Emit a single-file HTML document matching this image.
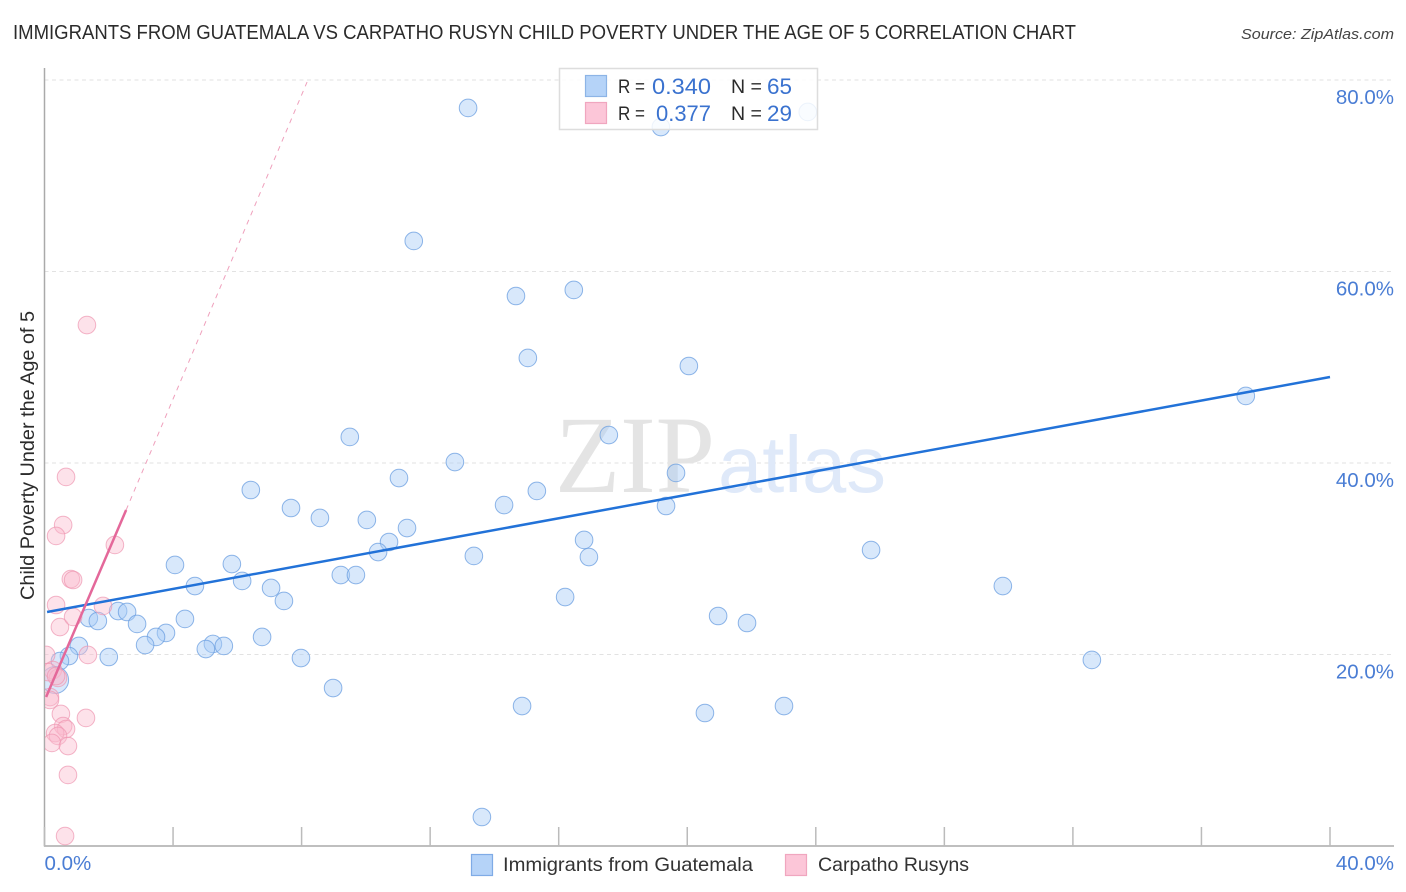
<!DOCTYPE html>
<html lang="en">
<head>
<meta charset="utf-8">
<title>Immigrants from Guatemala vs Carpatho Rusyn Child Poverty Under the Age of 5</title>
<style>
html,body{margin:0;padding:0;background:#fff;}
svg{display:block;font-family:"Liberation Sans",sans-serif;}
</style>
</head>
<body>
<svg id="chart" xmlns="http://www.w3.org/2000/svg" width="1406" height="892" viewBox="0 0 1406 892">
  <defs>
    <clipPath id="plot-clip"><rect x="45" y="60" width="1349" height="786"/></clipPath>
  </defs>
  <rect x="0" y="0" width="1406" height="892" fill="#ffffff"/>
  <text x="13" y="39" font-size="20" fill="#2b2b2b" textLength="1063" lengthAdjust="spacingAndGlyphs">IMMIGRANTS FROM GUATEMALA VS CARPATHO RUSYN CHILD POVERTY UNDER THE AGE OF 5 CORRELATION CHART</text>
  <text x="1241" y="39" font-size="15" font-style="italic" fill="#444444" textLength="153" lengthAdjust="spacingAndGlyphs">Source: ZipAtlas.com</text>
  <g id="grid"></g>
  <text x="555" y="492" font-family="'Liberation Serif',serif" font-size="110" fill="#e4e4e4" textLength="160" lengthAdjust="spacingAndGlyphs">ZIP</text>
  <text x="718" y="492" font-size="80" fill="#dfe9f9" textLength="168" lengthAdjust="spacingAndGlyphs">atlas</text>
  <g id="axes"></g>
  <g id="blue-points" clip-path="url(#plot-clip)"></g>
  <g id="pink-points" clip-path="url(#plot-clip)"></g>
  <g id="lines"></g>
  <text transform="translate(34,600) rotate(-90)" font-size="19" fill="#2b2b2b" textLength="289" lengthAdjust="spacingAndGlyphs">Child Poverty Under the Age of 5</text>

  <g>
    <rect x="559.5" y="68.5" width="258" height="61" fill="#ffffff" fill-opacity="0.84" stroke="#dddddd" stroke-width="1.5"/>
    <rect x="585.5" y="75.5" width="21" height="21" fill="#b5d3f8" stroke="#8db4e6" stroke-width="1.2"/>
    <rect x="585.5" y="102.5" width="21" height="21" fill="#fcc6d8" stroke="#f0a6bf" stroke-width="1.2"/>
    <text x="618" y="93" font-size="19" fill="#2b2b2b" textLength="27" lengthAdjust="spacingAndGlyphs">R =</text>
    <text x="652" y="94" font-size="22" fill="#3a72cf" textLength="59" lengthAdjust="spacingAndGlyphs">0.340</text>
    <text x="731" y="93" font-size="19" fill="#2b2b2b" textLength="31" lengthAdjust="spacingAndGlyphs">N =</text>
    <text x="767" y="94" font-size="22" fill="#3a72cf" textLength="25" lengthAdjust="spacingAndGlyphs">65</text>
    <text x="618" y="120" font-size="19" fill="#2b2b2b" textLength="27" lengthAdjust="spacingAndGlyphs">R =</text>
    <text x="656" y="121" font-size="22" fill="#3a72cf" textLength="55" lengthAdjust="spacingAndGlyphs">0.377</text>
    <text x="731" y="120" font-size="19" fill="#2b2b2b" textLength="31" lengthAdjust="spacingAndGlyphs">N =</text>
    <text x="767" y="121" font-size="22" fill="#3a72cf" textLength="25" lengthAdjust="spacingAndGlyphs">29</text>
  </g>

  <g>
    <rect x="471.5" y="854.5" width="21" height="21" fill="#b5d3f8" stroke="#7fabe6" stroke-width="1.2"/>
    <text x="503" y="871" font-size="19.5" fill="#333333" textLength="250" lengthAdjust="spacingAndGlyphs">Immigrants from Guatemala</text>
    <rect x="785.5" y="854.5" width="21" height="21" fill="#fcc6d8" stroke="#f0a6bf" stroke-width="1.2"/>
    <text x="818" y="871" font-size="19.5" fill="#333333" textLength="151" lengthAdjust="spacingAndGlyphs">Carpatho Rusyns</text>
  </g>
</svg>
<script>
const yTickValues = [20, 40, 60, 80];
const yTickLabels = ['20.0%', '40.0%', '60.0%', '80.0%'];
const xTickValues = [0, 4, 8, 12, 16, 20, 24, 28, 32, 36, 40];
const xEndValues = [0, 40];
const xEndLabels = ['0.0%', '40.0%'];

const guatemalaX = [13.18,19.18,23.75,11.49,14.67,16.47,15.04,20.05,37.38,9.50,17.56,12.77,11.03,19.65,6.42,15.32,7.67,14.30,19.34,8.57,10.03,11.28,10.72,16.79,10.38,13.36,16.94,25.72,4.06,5.83,9.22,9.69,6.15,4.68,7.05,29.82,7.45,16.20,2.29,2.57,1.38,1.66,2.88,4.37,20.96,21.86,3.78,3.47,3.13,1.07,5.24,5.02,5.58,6.77,2.00,0.76,7.98,32.59,0.48,8.98,14.86,20.55,23.01,13.61,0.33];
const guatemalaY = [77.08,75.09,76.66,63.19,57.44,58.07,50.97,50.13,47.00,42.72,42.92,40.10,38.43,38.96,37.18,37.08,35.30,35.61,35.51,34.26,34.05,33.21,31.75,31.96,30.70,30.29,30.18,30.91,29.35,29.45,28.30,28.30,27.68,27.15,26.95,27.15,25.59,26.00,24.54,24.44,23.81,23.50,23.19,23.71,24.02,23.29,22.25,21.83,20.99,20.89,21.10,20.57,20.89,21.83,19.74,19.84,19.63,19.43,19.32,16.50,14.62,13.89,14.62,3.03,17.34];
const guatemalaWeight = [1,1,1,1,1,1,1,1,1,1,1,1,1,1,1,1,1,1,1,1,1,1,1,1,1,1,1,1,1,1,1,1,1,1,1,1,1,1,1,1,1,1,1,1,1,1,1,1,1,1,1,1,1,1,1,1,1,1,1,1,1,1,1,1,2];

const carpathoX = [1.32,0.67,0.58,0.36,2.19,0.82,0.89,0.36,1.82,0.48,0.89,1.35,0.05,0.26,0.42,0.17,0.17,0.51,1.29,0.58,0.67,0.33,0.42,0.23,0.73,0.73,0.64,0.11,0.36];
const carpathoY = [54.41,38.54,33.52,32.38,31.44,27.88,27.78,25.17,25.07,22.87,23.92,19.95,19.95,18.38,17.55,15.56,15.25,13.79,13.37,12.53,12.22,11.80,11.49,10.76,10.44,7.42,1.04,18.17,17.75];

const guatemalaTrendX = [0.08, 40];
const guatemalaTrendY = [24.44, 48.98];
const carpathoTrendX = [0.05, 2.54];
const carpathoTrendY = [15.56, 35.09];
const carpathoDashX = [2.54, 8.17];
const carpathoDashY = [35.09, 79.79];

const NS = 'http://www.w3.org/2000/svg';
function xPos(v) { return 44.5 + v * (1330 - 44.5) / 40; }
function yPos(v) { return 846 - v * (846 - 80) / 80; }

function make(tag, parent, attrs) {
  const el = document.createElementNS(NS, tag);
  for (const k in attrs) el.setAttribute(k, attrs[k]);
  parent.appendChild(el);
  return el;
}

const gridG = document.getElementById('grid');
const axesG = document.getElementById('axes');
yTickValues.forEach(function (v, i) {
  const line = make('line', gridG, {x1: 44.5, x2: 1394, y1: yPos(v), y2: yPos(v), stroke: '#e2e2e2', 'stroke-width': 1, 'stroke-dasharray': '4 3.5'});
  
  
  const label = make('text', axesG, {x: 1394, y: yPos(v) + 24, 'font-size': 20.5, fill: '#4a7dd4', 'text-anchor': 'end'});
  
  
  label.textContent = yTickLabels[i];
});

const yAxis = make('line', axesG, {x1: 44.5, x2: 44.5, y1: 68, y2: 846.5, stroke: '#aaaaaa', 'stroke-width': 1.5});


const xAxis = make('line', axesG, {x1: 44, x2: 1394, y1: 846, y2: 846, stroke: '#aaaaaa', 'stroke-width': 1.5});



xTickValues.forEach(function (v) {
  const tick = make('line', axesG, {x1: xPos(v), x2: xPos(v), y1: 827, y2: 846, stroke: '#bbbbbb', 'stroke-width': 1.5});
  
  
});
xEndValues.forEach(function (v, i) {
  const label = make('text', axesG, {x: i === 0 ? xPos(v) : 1394, y: 870, 'font-size': 20.5, fill: '#4a7dd4', 'text-anchor': i === 0 ? 'start' : 'end'});
  
  
  label.textContent = xEndLabels[i];
});

const blueG = document.getElementById('blue-points');
guatemalaX.forEach(function (v, i) {
  const dot = make('circle', blueG, {cx: xPos(v), cy: yPos(guatemalaY[i]), r: guatemalaWeight[i] > 1 ? 13.5 : 8.8, fill: '#a9cbf6', 'fill-opacity': 0.45, stroke: '#6a9ee0', 'stroke-opacity': 0.75, 'stroke-width': 1});
  
  
});

const pinkG = document.getElementById('pink-points');
carpathoX.forEach(function (v, i) {
  const dot = make('circle', pinkG, {cx: xPos(v), cy: yPos(carpathoY[i]), r: 8.8, fill: '#fbb9cd', 'fill-opacity': 0.42, stroke: '#ee95b1', 'stroke-opacity': 0.7, 'stroke-width': 1});
  
  
});

const linesG = document.getElementById('lines');
const dashLine = make('line', linesG, {x1: xPos(carpathoDashX[0]), y1: yPos(carpathoDashY[0]), x2: xPos(carpathoDashX[1]), y2: yPos(carpathoDashY[1]), stroke: '#e8789f', 'stroke-width': 1, 'stroke-dasharray': '5 5', 'stroke-opacity': 0.7});


const blueLine = make('line', linesG, {x1: xPos(guatemalaTrendX[0]), y1: yPos(guatemalaTrendY[0]), x2: xPos(guatemalaTrendX[1]), y2: yPos(guatemalaTrendY[1]), stroke: '#2272d8', 'stroke-width': 2.5});


const pinkLine = make('line', linesG, {x1: xPos(carpathoTrendX[0]), y1: yPos(carpathoTrendY[0]), x2: xPos(carpathoTrendX[1]), y2: yPos(carpathoTrendY[1]), stroke: '#e4689a', 'stroke-width': 2.5});


</script>
</body>
</html>
